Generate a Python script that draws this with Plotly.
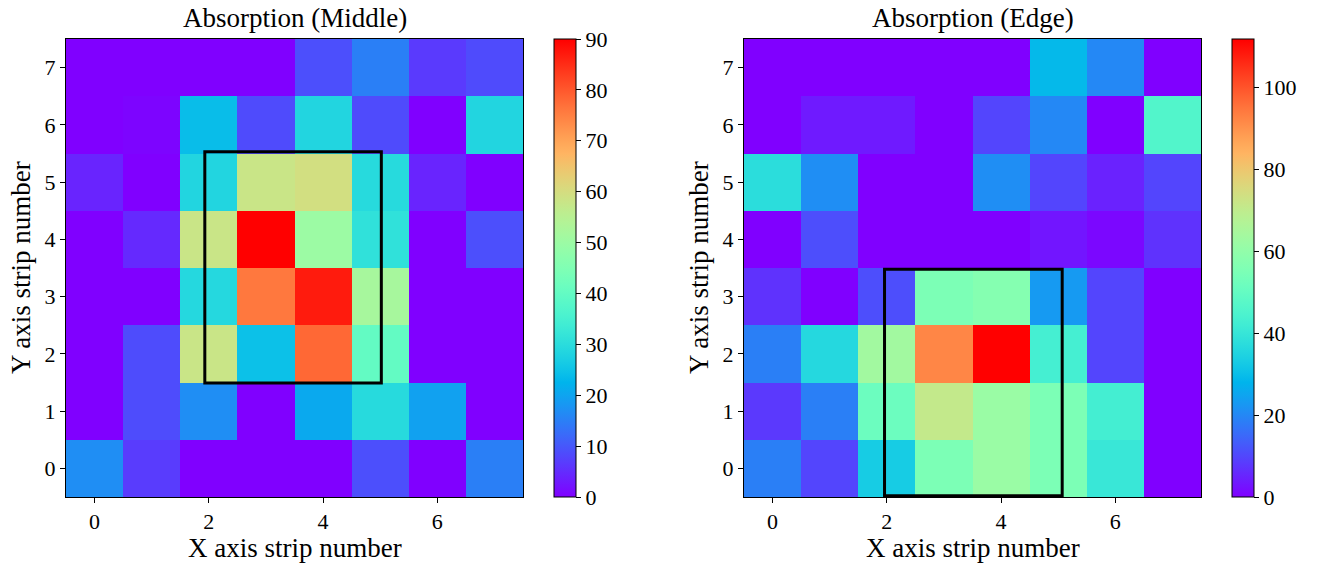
import numpy as np
import plotly.graph_objects as go

# Data: rows listed from top (y=7) to bottom (y=0), columns x=0..7
y_labels = [7, 6, 5, 4, 3, 2, 1, 0]
x_labels = [0, 1, 2, 3, 4, 5, 6, 7]

middle_rows = [
    [0, 0, 0, 0, 9, 15, 6.5, 8.5],
    [0, 0.5, 24, 8.5, 28.5, 8.5, 0, 28.5],
    [4, 0, 28.5, 58, 59.5, 29.5, 4, 0],
    [0, 4.6, 58, 90, 50, 31, 0, 9],
    [0, 0, 29, 76, 87, 52, 0, 0],
    [0, 8.7, 58, 24.6, 78, 40, 0, 0],
    [0, 8.7, 17, 0, 20.7, 29.5, 19.5, 0],
    [17, 6.7, 0, 0, 0, 9, 0, 15],
]

edge_rows = [
    [0, 0, 0, 0, 0, 29, 20, 0],
    [0, 3.6, 3.6, 0, 9.7, 20, 0, 46],
    [37.5, 21, 0, 0, 21, 9.7, 4.7, 9.7],
    [0, 11, 0, 0, 0, 3, 1, 7],
    [7, 0, 11, 55, 57, 23, 9.7, 0],
    [18.6, 36, 63.5, 92, 111.8, 43, 9.7, 0],
    [8, 18.6, 51.7, 70.7, 61.8, 55, 42.7, 0],
    [18.6, 9.7, 33, 55, 61.8, 55, 40.5, 0],
]

titles = ["Absorption (Middle)", "Absorption (Edge)"]
x_title = "X axis strip number"
y_title = "Y axis strip number"
middle_box = [1.93, 1.49, 5.02, 5.53]
edge_box = [1.96, -0.48, 5.07, 3.48]
vmax_middle = 90
vmax_edge = 111.8


def rainbow_scale(n=41):
    scale = []
    for t in np.linspace(0, 1, n):
        r = min(1, abs(2 * t - 0.5))
        g = np.sin(t * np.pi)
        b = np.cos(t * np.pi / 2)
        scale.append([float(t), "rgb(%d,%d,%d)" % (round(r * 255), round(max(g, 0) * 255), round(max(b, 0) * 255))])
    return scale


cs = rainbow_scale()
W, H = 1327, 564
font_family = "Liberation Serif, DejaVu Serif, serif"
TICK = 22
LAB = 27
TTL = 27

ax_left = [66 / W, 523 / W]
ax_right = [744 / W, 1201 / W]
ydom = [1 - 497 / H, 1 - 39 / H]
ymid = (ydom[0] + ydom[1]) / 2
cblen = ydom[1] - ydom[0]

fig = go.Figure()
fig.add_trace(go.Heatmap(
    z=middle_rows, x=x_labels, y=y_labels, colorscale=cs, zmin=0, zmax=vmax_middle,
    xaxis="x", yaxis="y",
    colorbar=dict(x=554 / W, xanchor="left", y=ymid, yanchor="middle", len=cblen, lenmode="fraction",
                  thickness=22, thicknessmode="pixels", outlinewidth=1, outlinecolor="black",
                  ticks="outside", ticklen=5, tickcolor="black", tickvals=[0, 10, 20, 30, 40, 50, 60, 70, 80, 90],
                  tickfont=dict(size=TICK, family=font_family, color="black"), xpad=0, ypad=0),
))
fig.add_trace(go.Heatmap(
    z=edge_rows, x=x_labels, y=y_labels, colorscale=cs, zmin=0, zmax=vmax_edge,
    xaxis="x2", yaxis="y2",
    colorbar=dict(x=1232 / W, xanchor="left", y=ymid, yanchor="middle", len=cblen, lenmode="fraction",
                  thickness=22, thicknessmode="pixels", outlinewidth=1, outlinecolor="black",
                  ticks="outside", ticklen=5, tickcolor="black", tickvals=[0, 20, 40, 60, 80, 100],
                  tickfont=dict(size=TICK, family=font_family, color="black"), xpad=0, ypad=0),
))

axis_common = dict(showline=True, linecolor="black", linewidth=1, mirror=True, ticks="outside",
                   ticklen=5, tickcolor="black", showgrid=False, zeroline=False,
                   tickfont=dict(size=TICK, family=font_family, color="black"))

fig.update_layout(
    width=W, height=H,
    margin=dict(l=0, r=0, t=0, b=0),
    paper_bgcolor="white", plot_bgcolor="white",
    font=dict(family=font_family, color="black"),
    xaxis=dict(domain=ax_left, range=[-0.5, 7.5], tickvals=[0, 2, 4, 6], anchor="y", **axis_common),
    yaxis=dict(domain=ydom, range=[-0.5, 7.5], tickvals=list(range(8)), anchor="x", **axis_common),
    xaxis2=dict(domain=ax_right, range=[-0.5, 7.5], tickvals=[0, 2, 4, 6], anchor="y2", **axis_common),
    yaxis2=dict(domain=ydom, range=[-0.5, 7.5], tickvals=list(range(8)), anchor="x2", **axis_common),
    showlegend=False,
)

for box, xr, yr in [(middle_box, "x", "y"), (edge_box, "x2", "y2")]:
    fig.add_shape(type="rect", xref=xr, yref=yr, x0=box[0], y0=box[1], x1=box[2], y1=box[3],
                  line=dict(color="black", width=3), fillcolor="rgba(0,0,0,0)")

ann = []
for dom, t in [(ax_left, titles[0]), (ax_right, titles[1])]:
    cx = (dom[0] + dom[1]) / 2
    ann.append(dict(text=t, x=cx, y=1 - 18 / H, xref="paper", yref="paper", showarrow=False,
                    font=dict(size=TTL, family=font_family, color="black"), xanchor="center", yanchor="middle"))
    ann.append(dict(text=x_title, x=cx, y=1 - 548 / H, xref="paper", yref="paper", showarrow=False,
                    font=dict(size=LAB, family=font_family, color="black"), xanchor="center", yanchor="middle"))
for px in [21, 699]:
    ann.append(dict(text=y_title, x=px / W, y=ymid, xref="paper", yref="paper", showarrow=False, textangle=-90,
                    font=dict(size=LAB, family=font_family, color="black"), xanchor="center", yanchor="middle"))
fig.update_layout(annotations=ann)

fig.write_html("out.html", config={"displayModeBar": False},
               post_script="document.body.style.margin='0';document.body.style.overflow='hidden';")
